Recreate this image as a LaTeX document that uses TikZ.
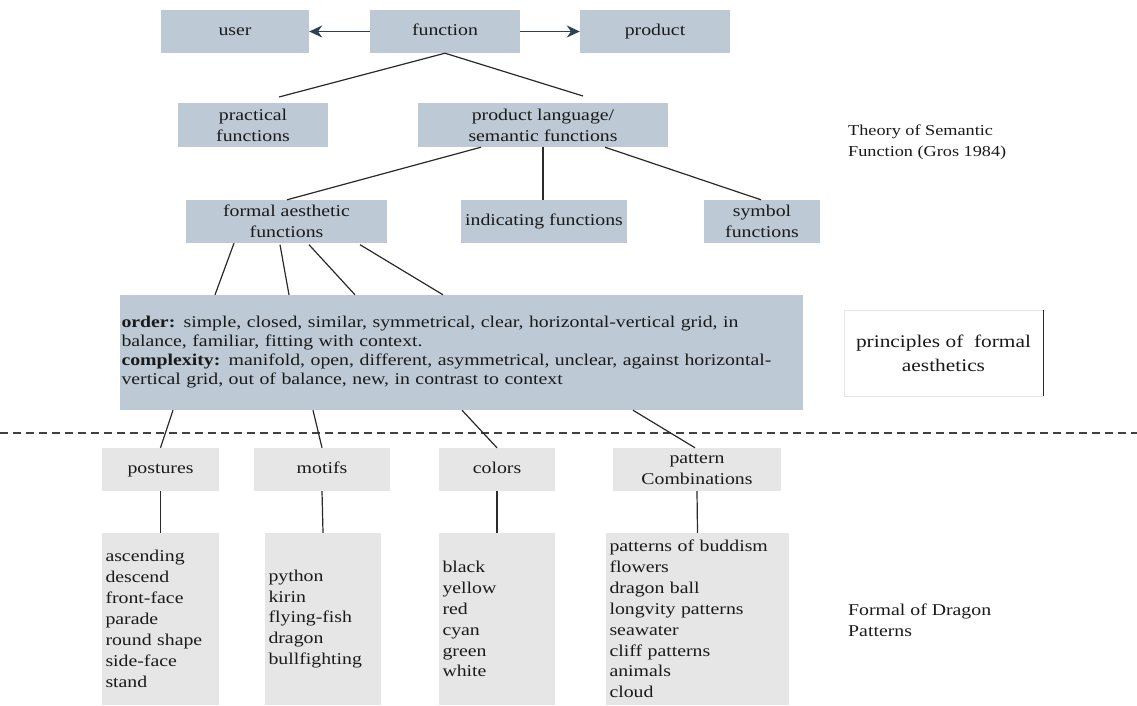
\documentclass[tikz,border=0pt]{standalone}
\usepackage{fontspec}
\setmainfont{Liberation Serif}[FakeStretch=1.2]
\usetikzlibrary{arrows.meta}
\definecolor{boxblue}{HTML}{BDCAD5}
\definecolor{boxgray}{HTML}{E6E6E6}
\definecolor{arrowc}{HTML}{2E4053}
\definecolor{linec}{HTML}{2A2A2A}
\definecolor{txt}{HTML}{1A1A1A}
\begin{document}
\begin{tikzpicture}[x=1pt,y=-1pt,
  font=\fontsize{16.5}{21}\selectfont, text=txt,
  bbox/.style={fill=boxblue, draw=none, inner sep=0pt, align=center, minimum height=43pt},
  gbox/.style={fill=boxgray, draw=none, inner sep=0pt, align=center, minimum height=43pt},
  one/.style={text height=11.5pt, text depth=3.5pt},
  lbox/.style={fill=boxgray, draw=none, inner sep=0pt, align=left, minimum height=172pt, font=\fontsize{16.5}{20.9}\selectfont},
  conn/.style={draw=linec, line width=1.2pt},
  arr/.style={draw=arrowc, line width=1.8pt, -{Stealth[length=13pt,width=12pt]}},
  plain/.style={inner sep=0pt, align=left}
]
\useasboundingbox (0,0) rectangle (1137,705);
\fill[white] (0,0) rectangle (1137,705);

% row 1
\node[bbox, one, minimum width=148pt] (user) at (235,31.5) {user};
\node[bbox, one, minimum width=150pt] (function) at (445,31.5) {function};
\node[bbox, one, minimum width=150pt] (product) at (655,31.5) {product};
\draw[arr] (function.west) -- (user.east);
\draw[arr] (function.east) -- (product.west);

% row 2
\node[bbox, minimum width=150pt, minimum height=44pt] (practical) at (253,125) {practical\\functions};
\node[bbox, minimum width=250pt, minimum height=44pt] (plang) at (543,125) {product language/\\semantic functions};
\coordinate (fa) at (279,97);
\coordinate (fb) at (583,96);
\draw[conn] (function.south) -- (fa);
\draw[conn] (function.south) -- (fb);

% row 3
\node[bbox, minimum width=201pt] (formal) at (286.5,221.5) {formal aesthetic\\functions};
\node[bbox, one, minimum width=166pt] (indic) at (544,221.5) {indicating functions};
\node[bbox, minimum width=116pt] (symbol) at (762,221.5) {symbol\\functions};
\draw[conn] ([xshift=-62pt]plang.south) -- ([xshift=0.5pt]formal.north);
\draw[conn] (plang.south) -- (plang.south |- indic.north);
\draw[conn] ([xshift=62pt]plang.south) -- ([xshift=-1pt]symbol.north);

% order box
\node[bbox, minimum width=683pt, minimum height=115pt, text width=680pt, align=left,
      font=\fontsize{16.5}{19}\selectfont] (order) at (461.5,352.5)
 {\makebox[680pt][s]{\textbf{order:} simple, closed, similar, symmetrical, clear, horizontal-vertical grid, in}\\
  balance, familiar, fitting with context.\\
  \makebox[680pt][s]{\textbf{complexity:} manifold, open, different, asymmetrical, unclear, against horizontal-}\\
  vertical grid, out of balance, new, in contrast to context};
\draw[conn] ([xshift=-52.5pt]formal.south) -- ([xshift=-246.5pt]order.north);
\draw[conn] ([xshift=-6.5pt,yshift=-1.5pt]formal.south) -- ([xshift=-172.5pt]order.north);
\draw[conn] ([xshift=22.5pt,yshift=-1.5pt]formal.south) -- ([xshift=-106.5pt]order.north);
\draw[conn] ([xshift=73.5pt,yshift=-1.5pt]formal.south) -- ([xshift=-18.5pt]order.north);

% right labels
\node[plain, anchor=west, font=\fontsize{15.2}{21}\selectfont] (theory) at (848,142.5) {Theory of Semantic\\Function (Gros 1984)};
\node[draw=black!10, line width=0.4pt, inner sep=0pt, align=center, minimum width=199pt, minimum height=86pt,
      font=\fontsize{17.8}{24}\selectfont] (princ) at (943.5,353) {principles of\ \ formal\\aesthetics};
\draw[conn] (princ.north east) -- (princ.south east);
\node[plain, anchor=west] (dragon) at (848,620) {Formal of Dragon\\Patterns};

% dashed separator
\coordinate (dl) at (0,433);
\coordinate (dr) at (1137,433);
\draw[draw=black!75, line width=1.2pt, dash pattern=on 8pt off 5pt] (dl) -- (dr);

% row 4
\node[gbox, one, minimum width=117pt] (postures) at (160.5,469.5) {postures};
\node[gbox, one, minimum width=136pt] (motifs) at (322,469.5) {motifs};
\node[gbox, one, minimum width=116pt] (colors) at (497,469.5) {colors};
\node[gbox, minimum width=168pt] (pattern) at (697,469.5) {pattern\\Combinations};
\draw[conn] ([xshift=-288.5pt]order.south) -- (postures.north);
\draw[conn] ([xshift=-148.5pt]order.south) -- (motifs.north);
\draw[conn] ([xshift=0.5pt]order.south) -- (colors.north);
\draw[conn] ([xshift=171.5pt]order.south) -- ([xshift=-2pt]pattern.north);

% lists
\node[lbox, minimum width=117pt, text width=110pt] (plist) at (160.5,619)
 {ascending\\descend\\front-face\\parade\\round shape\\side-face\\stand};
\node[lbox, minimum width=116pt, text width=109pt] (mlist) at (323,619)
 {python\\kirin\\flying-fish\\dragon\\bullfighting};
\node[lbox, minimum width=116pt, text width=109pt] (clist) at (497,619)
 {black\\yellow\\red\\cyan\\green\\white};
\node[lbox, minimum width=183pt, text width=176pt] (patlist) at (697.5,619)
 {patterns of buddism\\flowers\\dragon ball\\longvity patterns\\seawater\\cliff patterns\\animals\\cloud};
\draw[conn] (postures.south) -- (plist.north);
\draw[conn] (motifs.south) -- (mlist.north);
\draw[conn] (colors.south) -- (clist.north);
\draw[conn] (pattern.south) -- (patlist.north);
\end{tikzpicture}
\end{document}
